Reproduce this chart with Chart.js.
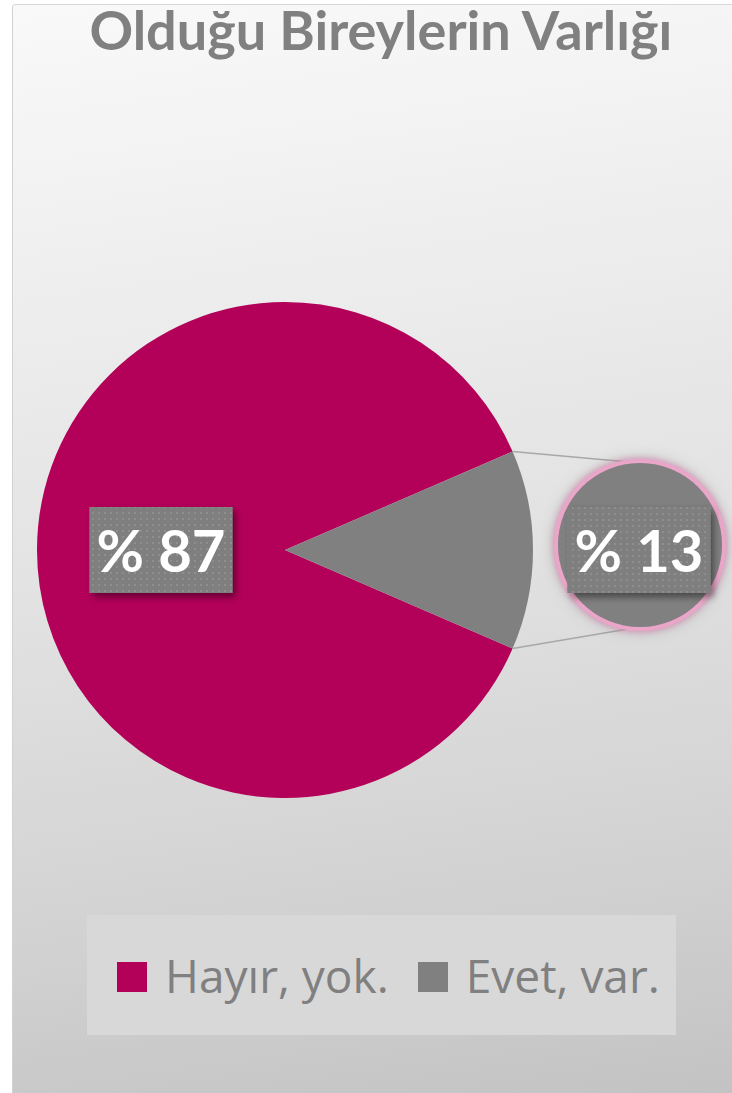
<!DOCTYPE html>
<html>
<head>
<meta charset="utf-8">
<script src="https://cdn.jsdelivr.net/npm/chart.js@4.4.1/dist/chart.umd.min.js"></script>
<style>
  html, body { margin: 0; padding: 0; background: #fff; }
  #page { position: relative; width: 732px; height: 1093px; overflow: hidden; }
  #panel {
    position: absolute; left: 12px; top: 4px; width: 740px; height: 1100px;
    border-left: 1px solid #d2d2d2; border-top: 1px solid #d8d8d8; border-top-left-radius: 4px;
    background: linear-gradient(172deg, #f9f9f9 0%, #f0f0f0 20%, #e2e2e2 50%, #d2d2d2 78%, #c2c2c2 100%);
  }
  #title {
    position: absolute; left: 0; width: 762px; top: 0px; text-align: center;
    font-family: Lato, "Open Sans", sans-serif; font-weight: 700; font-size: 53px;
    color: #808080; white-space: nowrap; line-height: 60px;
  }
  #title span { display: inline-block; transform-origin: center center; }
  #mainChart { position: absolute; left: 0; top: 0; }
  #subChart { position: absolute; left: 540px; top: 445px; }
  #legend {
    position: absolute; left: 87px; top: 915px; width: 559px; height: 120px; padding-left: 30px;
    background: #d8d8d8; display: flex; align-items: center; justify-content: flex-start;
    font-family: "Open Sans", sans-serif; font-size: 46px; color: #808080; white-space: nowrap;
  }
  .item { display: flex; align-items: center; margin-right: 29px; flex-shrink: 0; }
  .swatch { width: 30px; height: 30px; margin-right: 18px; margin-top: 4px; flex-shrink: 0; }
</style>
</head>
<body>
<div id="page">
  <div id="panel"></div>
  <div id="title"><span id="titleText">Olduğu Bireylerin Varlığı</span></div>
  <canvas id="mainChart" width="732" height="1093"></canvas>
  <canvas id="subChart" width="200" height="200"></canvas>
  <div id="legend"></div>
</div>
<script>
const categories = ['Hayır, yok.', 'Evet, var.'];
const values = [87, 13];
const colors = ['#b30059', '#808080'];

// second pie: breakdown of the "Evet" slice
const subCategories = ['Evet, var.'];
const subValues = [13];
const subColors = ['#808080'];

const SUB = { x: 640, y: 545, r: 82 };

// squeeze the title to the width it takes in the picture (narrow font there)
const titleText = document.getElementById('titleText');
const titleW = titleText.getBoundingClientRect().width;
titleText.style.transform = 'scaleX(' + (583 / titleW) + ')';

// dotted fill used behind the data labels
const patCanvas = document.createElement('canvas');
patCanvas.width = 6; patCanvas.height = 6;
const pctx = patCanvas.getContext('2d');
pctx.fillStyle = '#7f7f7f';
pctx.fillRect(0, 0, 6, 6);
pctx.fillStyle = '#8e8e8e';
pctx.fillRect(2, 2, 2, 2);

function drawLabel(ctx, cx, cy, text) {
  const w = 143, h = 86;
  const pattern = ctx.createPattern(patCanvas, 'repeat');
  ctx.save();
  ctx.shadowColor = 'rgba(0,0,0,0.45)';
  ctx.shadowBlur = 7;
  ctx.shadowOffsetX = 3;
  ctx.shadowOffsetY = 4;
  ctx.fillStyle = '#7f7f7f';
  ctx.fillRect(cx - w / 2, cy - h / 2, w, h);
  ctx.restore();
  ctx.save();
  ctx.fillStyle = pattern;
  ctx.fillRect(cx - w / 2, cy - h / 2, w, h);
  ctx.fillStyle = '#ffffff';
  ctx.font = 'bold 58px Lato';
  ctx.textAlign = 'center';
  ctx.textBaseline = 'alphabetic';
  ctx.fillText(text, cx, cy + 22);
  ctx.restore();
}

const mainLabels = {
  id: 'mainLabels',
  afterDatasetsDraw(chart) {
    const ctx = chart.ctx;
    const arcs = chart.getDatasetMeta(0).data;
    // connector lines from the small slice to the second pie
    const other = arcs[1];
    const p1 = { x: other.x + other.outerRadius * Math.cos(other.startAngle), y: other.y + other.outerRadius * Math.sin(other.startAngle) };
    const p2 = { x: other.x + other.outerRadius * Math.cos(other.endAngle), y: other.y + other.outerRadius * Math.sin(other.endAngle) };
    ctx.save();
    ctx.strokeStyle = '#a8a8a8';
    ctx.lineWidth = 1.5;
    ctx.beginPath();
    ctx.moveTo(p1.x, p1.y);
    ctx.lineTo(SUB.x, SUB.y - SUB.r);
    ctx.moveTo(p2.x, p2.y);
    ctx.lineTo(SUB.x, SUB.y + SUB.r);
    ctx.stroke();
    ctx.restore();
    // label of the big slice
    const a = arcs[0];
    const mid = (a.startAngle + a.endAngle) / 2;
    drawLabel(ctx, a.x + a.outerRadius * 0.5 * Math.cos(mid), a.y + a.outerRadius * 0.5 * Math.sin(mid), '% ' + values[0]);
  }
};

new Chart(document.getElementById('mainChart'), {
  type: 'pie',
  data: {
    labels: categories,
    datasets: [{ data: values, backgroundColor: colors, borderWidth: 0 }]
  },
  options: {
    responsive: false,
    animation: false,
    rotation: 90 + 360 * values[1] / 200,
    layout: { padding: { left: 37, top: 302, right: 199, bottom: 295 } },
    plugins: { legend: { display: false }, tooltip: { enabled: false } }
  },
  plugins: [mainLabels]
});

const subDecor = {
  id: 'subDecor',
  beforeDatasetsDraw(chart) {
    const a = chart.getDatasetMeta(0).data[0];
    const ctx = chart.ctx;
    ctx.save();
    ctx.shadowColor = 'rgba(120,120,120,0.5)';
    ctx.shadowBlur = 14;
    ctx.fillStyle = '#e8a3c6';
    ctx.beginPath();
    ctx.arc(a.x, a.y, a.outerRadius + 3, 0, Math.PI * 2);
    ctx.fill();
    ctx.restore();
    ctx.save();
    ctx.shadowColor = 'rgba(225,120,175,0.9)';
    ctx.shadowBlur = 6;
    ctx.strokeStyle = '#eaa6c8';
    ctx.lineWidth = 4;
    ctx.beginPath();
    ctx.arc(a.x, a.y, a.outerRadius + 2, 0, Math.PI * 2);
    ctx.stroke();
    ctx.restore();
  },
  afterDatasetsDraw(chart) {
    const a = chart.getDatasetMeta(0).data[0];
    drawLabel(chart.ctx, a.x - 1, a.y + 5, '% ' + subValues[0]);
  }
};

new Chart(document.getElementById('subChart'), {
  type: 'pie',
  data: {
    labels: subCategories,
    datasets: [{ data: subValues, backgroundColor: subColors, borderWidth: 0 }]
  },
  options: {
    responsive: false,
    animation: false,
    layout: { padding: 18 },
    plugins: { legend: { display: false }, tooltip: { enabled: false } }
  },
  plugins: [subDecor]
});

const legendDiv = document.getElementById('legend');
categories.forEach((name, i) => {
  const item = document.createElement('div');
  item.className = 'item';
  item.innerHTML = `<span class="swatch" style="background:${colors[i]}"></span><span>${name}</span>`;
  legendDiv.appendChild(item);
});
</script>
</body>
</html>
